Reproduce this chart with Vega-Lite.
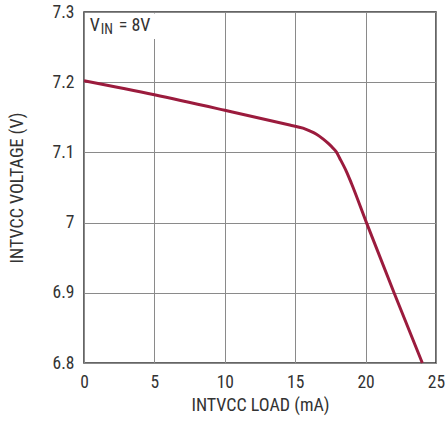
{
  "$schema": "https://vega.github.io/schema/vega-lite/v6.json",
  "width": 352,
  "height": 351,
  "autosize": {"type": "none"},
  "padding": {"left": 84, "top": 12, "right": 9, "bottom": 62},
  "background": "white",
  "config": {
    "font": "Liberation Sans Narrow, Roboto Condensed, Liberation Sans, sans-serif",
    "view": {"stroke": "#333333", "strokeWidth": 1.5},
    "axis": {
      "labelFont": "Liberation Sans Narrow, Roboto Condensed, Liberation Sans, sans-serif",
      "titleFont": "Liberation Sans Narrow, Roboto Condensed, Liberation Sans, sans-serif",
      "labelFontSize": 17.5,
      "titleFontSize": 18,
      "labelColor": "#333333",
      "titleColor": "#333333",
      "titleFontWeight": "normal",
      "ticks": false,
      "domain": false,
      "gridColor": "#8a8a8a",
      "gridWidth": 1,
      "gridOpacity": 1
    }
  },
  "layer": [
    {
      "data": {
        "values": [
          {"load": 0, "v": 7.202},
          {"load": 5, "v": 7.182},
          {"load": 10, "v": 7.16},
          {"load": 14.61, "v": 7.139},
          {"load": 15.55, "v": 7.1345},
          {"load": 16.03, "v": 7.1306},
          {"load": 16.51, "v": 7.1259},
          {"load": 16.97, "v": 7.1192},
          {"load": 17.33, "v": 7.1131},
          {"load": 17.69, "v": 7.106},
          {"load": 17.93, "v": 7.1003},
          {"load": 18.16, "v": 7.0917},
          {"load": 18.64, "v": 7.0727},
          {"load": 18.99, "v": 7.0561},
          {"load": 20.06, "v": 7.0},
          {"load": 22.02, "v": 6.9},
          {"load": 24.03, "v": 6.8}
        ]
      },
      "mark": {"type": "line", "interpolate": "monotone", "color": "#9b1b3d", "strokeWidth": 3},
      "encoding": {
        "x": {
          "field": "load", "type": "quantitative",
          "scale": {"domain": [0, 25], "nice": false},
          "axis": {"values": [0, 5, 10, 15, 20, 25], "title": "INTVCC  LOAD (mA)", "labelPadding": 10, "titlePadding": 6, "labelFlush": false}
        },
        "y": {
          "field": "v", "type": "quantitative",
          "scale": {"domain": [6.8, 7.3], "nice": false, "zero": false},
          "axis": {"values": [6.8, 6.9, 7.0, 7.1, 7.2, 7.3], "format": "~g", "title": "INTVCC  VOLTAGE (V)", "labelPadding": 10, "titlePadding": 26}
        }
      }
    },
    {
      "data": {"values": [{"x0": 0.08, "x1": 5.07, "y0": 7.2615, "y1": 7.298}]},
      "mark": {"type": "rect", "fill": "white", "strokeWidth": 0},
      "encoding": {
        "x": {"field": "x0", "type": "quantitative"},
        "x2": {"field": "x1"},
        "y": {"field": "y0", "type": "quantitative"},
        "y2": {"field": "y1"}
      }
    },
    {
      "data": {"values": [{"label": "V", "lx": 0.4, "ly": 7.2725}]},
      "mark": {"type": "text", "align": "left", "baseline": "alphabetic", "fontSize": 18, "fontWeight": 400, "fill": "#333333"},
      "encoding": {"x": {"field": "lx", "type": "quantitative"}, "y": {"field": "ly", "type": "quantitative"}, "text": {"field": "label"}}
    },
    {
      "data": {"values": [{"label": "IN", "lx": 0.4, "ly": 7.2725}]},
      "mark": {"type": "text", "align": "left", "baseline": "alphabetic", "fontSize": 14, "fontWeight": 400, "fill": "#333333", "dx": 11, "dy": 3},
      "encoding": {"x": {"field": "lx", "type": "quantitative"}, "y": {"field": "ly", "type": "quantitative"}, "text": {"field": "label"}}
    },
    {
      "data": {"values": [{"label": "= 8V", "lx": 0.4, "ly": 7.2725}]},
      "mark": {"type": "text", "align": "left", "baseline": "alphabetic", "fontSize": 18, "fontWeight": 400, "fill": "#333333", "dx": 29},
      "encoding": {"x": {"field": "lx", "type": "quantitative"}, "y": {"field": "ly", "type": "quantitative"}, "text": {"field": "label"}}
    }
  ]
}
